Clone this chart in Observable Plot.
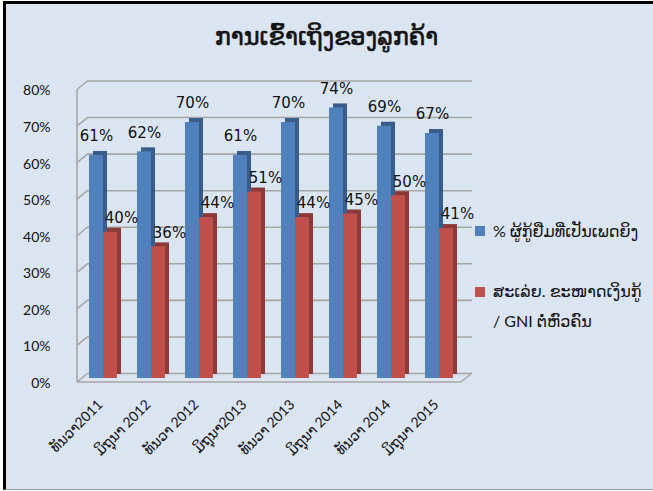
<!DOCTYPE html>
<html>
<head>
<meta charset="utf-8">
<script src="https://cdn.jsdelivr.net/npm/d3@7"></script>
<script src="https://cdn.jsdelivr.net/npm/@observablehq/plot@0.6"></script>
<style>
  html, body { margin: 0; padding: 0; background: #ffffff; }
  #wrap { position: relative; width: 653px; height: 491px; overflow: hidden; background: #ffffff; }
  #panel { position: absolute; left: 3px; top: 1px; width: 647px; height: 485px;
           border-top: 3px solid #000; border-left: 3px solid #000; border-bottom: 1px solid #8f9cab;
           background: #dbe5f1; }
  #chart { position: absolute; left: 0; top: 0; }
  #title { position: absolute; left: 0; width: 653px; top: 23px; text-align: center;
           font-family: "DejaVu Sans", sans-serif; font-size: 24px; font-weight: normal; color: #111;
           -webkit-text-stroke: 0.6px #111; }
  .leg { position: absolute; left: 475px; font-family: Lato, "DejaVu Sans", sans-serif; font-size: 16px;
         color: #111; white-space: nowrap; line-height: 30px; }
  .sw { position: absolute; left: 0; width: 10px; height: 10px; }
  .lt { position: absolute; left: 18px; top: 0; }
</style>
</head>
<body>
<div id="wrap">
  <div id="panel"></div>
  <div id="chart"></div>
  <div id="title"></div>
  <div id="legend"></div>
</div>
<script>
const title = "ການເຂົ້າເຖິງຂອງລູກຄ້າ";
const categories = ["ທັນວາ2011", "ມິຖຸນາ 2012", "ທັນວາ 2012", "ມິຖຸນາ2013", "ທັນວາ 2013", "ມິຖຸນາ 2014", "ທັນວາ 2014", "ມິຖຸນາ 2015"];
const femaleBorrowers = [0.61, 0.62, 0.70, 0.61, 0.70, 0.74, 0.69, 0.67];
const loanSizeToGni = [0.40, 0.36, 0.44, 0.51, 0.44, 0.45, 0.50, 0.41];
const seriesNames = ["% ຜູ້ກູ້ຢືມທີ່ເປັນເພດຍິງ", "ສະເລ່ຍ. ຂະໜາດເງິນກູ້\n/ GNI ຕໍ່ຫົວຄົນ"];
const yTicks = [0, 0.1, 0.2, 0.3, 0.4, 0.5, 0.6, 0.7, 0.8];

const colors = { blue: "#4f81bd", blueSide: "#385d8a", red: "#c0504d", redSide: "#8c3a37", grid: "#a6a6a6" };

const blueData = categories.map((c, i) => ({ cat: c, v: femaleBorrowers[i] }));
const redData = categories.map((c, i) => ({ cat: c, v: loanSizeToGni[i] }));
const pct = d3.format(".0%");

document.getElementById("title").textContent = title;

const W = 653, H = 491;
const chart = Plot.plot({
  width: W, height: H,
  marginLeft: 79, marginRight: 190, marginTop: 85.5, marginBottom: 113,
  style: { background: "transparent", overflow: "visible" },
  x: { type: "band", domain: categories, paddingInner: 0.42, paddingOuter: 0.21, axis: null },
  y: { domain: [0, 0.8], axis: null },
  marks: [
    Plot.ruleY(yTicks, { y: d => d, stroke: colors.grid, strokeWidth: 1.6, dx: 9, dy: -5 }),
    Plot.text(yTicks, { y: d => d, text: d => pct(d), frameAnchor: "left", textAnchor: "end",
      dx: -29, dy: 5, fontSize: 14, fontFamily: "Lato, 'DejaVu Sans', sans-serif", fill: "#111" }),
    Plot.text(categories, { x: d => d, text: d => d, frameAnchor: "bottom", textAnchor: "end",
      rotate: -45, dx: 0, dy: 27, fontSize: 14, fontFamily: "Lato, 'DejaVu Sans', sans-serif", fill: "#111" }),
    Plot.barY(blueData, { x: "cat", y: "v", fill: colors.blueSide, insetRight: 14, dx: 4, dy: -4 }),
    Plot.barY(blueData, { x: "cat", y: "v", fill: colors.blue, insetRight: 14 }),
    Plot.barY(redData, { x: "cat", y: "v", fill: colors.redSide, insetLeft: 14, dx: 4, dy: -4 }),
    Plot.barY(redData, { x: "cat", y: "v", fill: colors.red, insetLeft: 14 }),
    Plot.text(blueData, { x: "cat", y: "v", text: d => pct(d.v), dx: -7, dy: -19, fontSize: 15,
      fontFamily: "'DejaVu Sans', sans-serif", fill: "#111" }),
    Plot.text(redData, { x: "cat", y: "v", text: d => pct(d.v), dx: 18, dy: -14, fontSize: 15,
      fontFamily: "'DejaVu Sans', sans-serif", fill: "#111" })
  ]
});
document.getElementById("chart").appendChild(chart);

// 3D wall decoration derived from the plot's scales
const ys = chart.scale("y"), xs = chart.scale("x");
const y = d3.scaleLinear(ys.domain, ys.range);
const xL = xs.range[0] - 2, xR = xs.range[1] - 2;
const deco = d3.select(chart).insert("g", "g")
  .attr("stroke", colors.grid).attr("stroke-width", 1.6).attr("fill", "none");
yTicks.forEach(t => {
  deco.append("line").attr("x1", xL).attr("y1", y(t) + 4).attr("x2", xL + 11).attr("y2", y(t) - 5);
});
deco.append("line").attr("x1", xL).attr("y1", y(0.8) + 4).attr("x2", xL).attr("y2", y(0) + 4);
const front = d3.select(chart).append("g").attr("stroke", colors.grid).attr("stroke-width", 1.6).attr("fill", "none");
front.append("line").attr("x1", xL).attr("y1", y(0) + 4).attr("x2", xR).attr("y2", y(0) + 4);
front.append("line").attr("x1", xR).attr("y1", y(0) + 4).attr("x2", xR + 11).attr("y2", y(0) - 5);

// legend
const legend = document.getElementById("legend");
const legItems = [
  { name: seriesNames[0], color: colors.blue, top: 216, swTop: 10 },
  { name: seriesNames[1], color: colors.red, top: 276, swTop: 11 }
];
legItems.forEach(it => {
  const d = document.createElement("div");
  d.className = "leg";
  d.style.top = it.top + "px";
  const sw = document.createElement("div");
  sw.className = "sw"; sw.style.background = it.color; sw.style.top = it.swTop + "px";
  const t = document.createElement("div");
  t.className = "lt";
  it.name.split("\n").forEach((line, k) => {
    if (k) t.appendChild(document.createElement("br"));
    t.appendChild(document.createTextNode(line));
  });
  d.appendChild(sw); d.appendChild(t);
  legend.appendChild(d);
});
</script>
</body>
</html>
